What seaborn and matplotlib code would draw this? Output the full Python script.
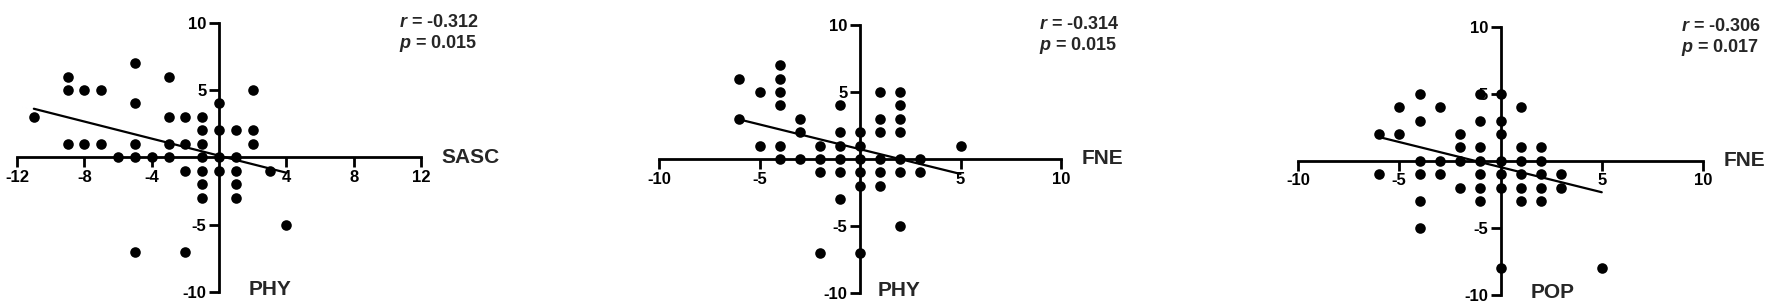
import numpy as np
import matplotlib
matplotlib.use("Agg")
import matplotlib.pyplot as plt
import seaborn as sns

# Panel 1: SASC (x) vs PHY (y)
sasc_1 = [-11, -9, -9, -8, -7, -5, -3, 2, -5, 0,
          -3, -2, -1, -1, 0, 1, 2,
          -9, -8, -7, -5, -3, -2, -1, 2,
          -6, -5, -4, -3, -1, 0, 1,
          -2, -1, 0, 1, 3, -1, 1, -1, 1,
          4, -5, -2]
phy_1 = [3, 6, 5, 5, 5, 7, 6, 5, 4, 4,
         3, 3, 3, 2, 2, 2, 2,
         1, 1, 1, 1, 1, 1, 1, 1,
         0, 0, 0, 0, 0, 0, 0,
         -1, -1, -1, -1, -1, -2, -2, -3, -3,
         -5, -7, -7]

# Panel 2: FNE (x) vs PHY (y)
fne_2 = [-4, -6, -4, -5, -4, 1, 2, -4, -1, 2,
         -6, -3, 1, 2, -3, -1, 0, 1, 2,
         -5, -4, -2, -1, 0, 5,
         -4, -3, -2, -1, 0, 1, 2, 3,
         -2, -1, 0, 1, 2, 3,
         0, 1, -1, 2, -2, 0]
phy_2 = [7, 6, 6, 5, 5, 5, 5, 4, 4, 4,
         3, 3, 3, 3, 2, 2, 2, 2, 2,
         1, 1, 1, 1, 1, 1,
         0, 0, 0, 0, 0, 0, 0, 0,
         -1, -1, -1, -1, -1, -1,
         -2, -2, -3, -5, -7, -7]

# Panel 3: FNE (x) vs POP (y)
fne_3 = [-4, -1, 0, -5, -3, 1, -4, -1, 0,
         -6, -5, -2, 0, -2, -1, 1, 2,
         -4, -3, -2, -1, 0, 1, 2,
         -6, -4, -3, -1, 0, 1, 2, 3,
         -2, -1, 0, 1, 2, 3,
         -4, -1, 1, 2, -4, 0, 5]
pop_3 = [5, 5, 5, 4, 4, 4, 3, 3, 3,
         2, 2, 2, 2, 1, 1, 1, 1,
         0, 0, 0, 0, 0, 0, 0,
         -1, -1, -1, -1, -1, -1, -1, -1,
         -2, -2, -2, -2, -2, -2,
         -3, -3, -3, -3, -5, -8, -8]

x_names = ["SASC", "FNE", "FNE"]
y_names = ["PHY", "PHY", "POP"]
r_values = ["-0.312", "-0.314", "-0.306"]
p_values = ["0.015", "0.015", "0.017"]
x_ticks = [[-12, -8, -4, 4, 8, 12], [-10, -5, 5, 10], [-10, -5, 5, 10]]
y_ticks = [-10, -5, 5, 10]


def draw_panel(ax, x, y, xticks, xname, yname, r_val, p_val, ylab_dx):
    sns.regplot(
        x=np.array(x), y=np.array(y), ax=ax, ci=None, truncate=True,
        scatter_kws=dict(s=58, color="black", linewidths=0, clip_on=False, zorder=3, alpha=1),
        line_kws=dict(color="black", lw=1.6, zorder=4),
    )
    ax.set_xlabel("")
    ax.set_ylabel("")
    lim = max(abs(xticks[0]), abs(xticks[-1]))
    ax.set_xlim(-lim, lim)
    ax.set_ylim(-10, 10)
    ax.set_xticks(xticks)
    ax.set_yticks(y_ticks)

    for side in ["top", "right"]:
        ax.spines[side].set_visible(False)
    ax.spines["left"].set_position(("data", 0))
    ax.spines["bottom"].set_position(("data", 0))
    for side in ["left", "bottom"]:
        ax.spines[side].set_linewidth(2)
        ax.spines[side].set_color("black")
    ax.tick_params(direction="out", length=7, width=2, labelsize=12, pad=2, colors="black")
    ax.patch.set_alpha(0)

    ax.annotate(xname, xy=(1, 0), xycoords=("axes fraction", "data"),
                xytext=(15, 0), textcoords="offset points",
                ha="left", va="center", fontsize=15, fontweight="bold")
    ax.annotate(yname, xy=(0, -10), xycoords="data",
                xytext=(ylab_dx, -2.5), textcoords="offset points",
                ha="left", va="baseline", fontsize=15, fontweight="bold")

    ax.annotate(r"$r$ = " + r_val, xy=(0.945, 1), xycoords="axes fraction",
                xytext=(0, -3), textcoords="offset points",
                ha="left", va="baseline", fontsize=13, fontweight="bold")
    ax.annotate(r"$p$ = " + p_val, xy=(0.945, 1), xycoords="axes fraction",
                xytext=(0, -18), textcoords="offset points",
                ha="left", va="baseline", fontsize=13, fontweight="bold")


def main() -> None:
    sns.set_style("ticks")
    plt.rcParams["font.family"] = ["Liberation Sans", "DejaVu Sans"]
    plt.rcParams["font.weight"] = "bold"
    plt.rcParams["axes.unicode_minus"] = False
    plt.rcParams["mathtext.fontset"] = "custom"
    plt.rcParams["mathtext.it"] = "Liberation Sans:italic:bold"
    plt.rcParams["mathtext.rm"] = "Liberation Sans:bold"

    fig = plt.figure(figsize=(17.72, 3.08), dpi=100)
    # axes placed to match the reference layout
    positions = [
        [17 / 1772, 16 / 308, 404 / 1772, 269.3 / 308],
        [659 / 1772, 15 / 308, 402 / 1772, 268 / 308],
        [1298 / 1772, 13 / 308, 405 / 1772, 268.3 / 308],
    ]
    data = [(sasc_1, phy_1), (fne_2, phy_2), (fne_3, pop_3)]
    ylab_offsets = [21, 13, 21.5]

    for i, pos in enumerate(positions):
        ax = fig.add_axes(pos)
        x, y = data[i]
        draw_panel(ax, x, y, x_ticks[i], x_names[i], y_names[i],
                   r_values[i], p_values[i], ylab_offsets[i])

    fig.savefig("out.png", dpi=100, facecolor="white")
    plt.close(fig)


if __name__ == "__main__":
    main()
